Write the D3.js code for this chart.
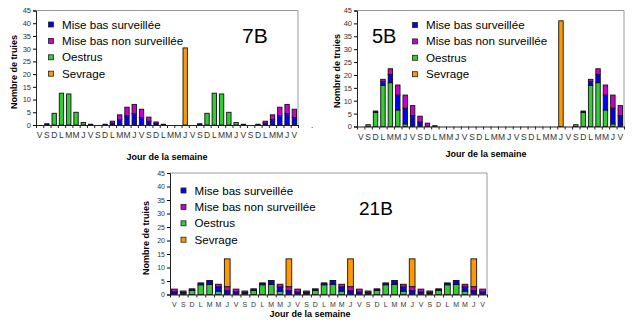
<!DOCTYPE html>
<html>
<head>
<meta charset="utf-8">
<script src="https://cdn.jsdelivr.net/npm/d3@7"></script>
<style>
  body { margin: 0; background: #fff; }
  svg { display: block; font-family: "Liberation Sans", Arial, sans-serif; }
</style>
</head>
<body>
<div id="chart"></div>
<script>
// Categories (jours de la semaine)
const jours = ["V","S","D","L","M","M","J","V","S","D","L","M","M","J","V","S","D","L",
               "M","M","J","V","S","D","L","M","M","J","V","S","D","L","M","M","J","V"];
const yTicks = [0, 5, 10, 15, 20, 25, 30, 35, 40, 45];
const seriesNames = ["Mise bas surveillée", "Mise bas non surveillée", "Oestrus", "Sevrage"];

// 7B
const oestrus7B = [0,0,4.6,12.5,12.2,5,1,0.3,0,0,0,0,0,0,0,0,0,0,0,0,0,0,0,4.6,12.5,12.2,5,1,0.3,0,0,0,0,0,0,0];
const surv7B    = [0,0.5,0,0,0,0,0,0,0,0.3,0.7,2.2,3.7,4.5,3,1.5,0.5,0.3,0,0,0,0,0.5,0,0,0,0,0,0,0,0.3,0.7,2.2,3.7,4.5,3];
const nonSurv7B = [0,0,0,0,0,0,0,0,0,0,0.8,1.8,3.3,3.6,3.2,1.6,0.7,0,0,0,0,0,0,0,0,0,0,0,0,0,0,0.8,1.8,3.3,3.6,3.2];
const sevrage7B = [0,0,0,0,0,0,0,0,0,0,0,0,0,0,0,0,0,0,0,0,30.3,0,0,0,0,0,0,0,0,0,0,0,0,0,0,0];

// 5B
const oestrus5B = [0,0.7,5.5,16,17,6.4,1,0,0,0,0,0,0,0,0,0,0,0,0,0,0,0,0,0,0,0,0,0,0,0.7,5.5,16,17,6.4,1,0];
const surv5B    = [0,0,0.5,1.5,3.2,5.8,6.1,4.2,1.8,0,0.3,0,0,0,0,0,0,0,0,0,0,0,0,0,0,0,0,0,0,0,0.5,1.5,3.2,5.8,6.1,4.2];
const nonSurv5B = [0,0,0,0.8,2.2,3.9,5.1,3.9,2.2,1.3,0,0,0,0,0,0,0,0,0,0,0,0,0,0,0,0,0,0,0,0,0,0.8,2.2,3.9,5.1,3.9];
const sevrage5B = [0,0,0,0,0,0,0,0,0,0,0,0,0,0,0,0,0,0,0,0,0,0,0,0,0,0,0,41,0,0,0,0,0,0,0,0];

// 21B
const oestrus21B = [0,0,1.5,3.6,3.7,1.2,0,0,0,1.5,3.6,3.7,1.2,0,0,0,1.5,3.6,3.7,1.2,0,0,0,1.5,3.6,3.7,1.2,0,0,0,1.5,3.6,3.7,1.2,0,0];
const surv21B    = [1,0.7,0.6,0.7,1.5,1.6,1.4,1,0.7,0.6,0.7,1.5,1.6,1.4,1,0.7,0.6,0.7,1.5,1.6,1.4,1,0.7,0.6,0.7,1.5,1.6,1.4,1,0.7,0.6,0.7,1.5,1.6,1.4,1];
const nonSurv21B = [1,0.6,0,0,0,1,1.5,1,0.6,0,0,0,1,1.5,1,0.6,0,0,0,1,1.5,1,0.6,0,0,0,1,1.5,1,0.6,0,0,0,1,1.5,1];
const sevrage21B = [0,0,0,0,0,0,10.3,0,0,0,0,0,0,10.3,0,0,0,0,0,0,10.3,0,0,0,0,0,0,10.3,0,0,0,0,0,0,10.3,0];

const colors = { surv: "#0000ff", non: "#cc00cc", oe: "#33cc33", sev: "#ff9900" };

const svg = d3.select("#chart").append("svg")
  .attr("width", 632)
  .attr("height", 322);

function drawChart(c) {
  const rows = jours.map((j, i) => ({
    i: i, oe: c.oe[i], surv: c.surv[i], non: c.non[i], sev: c.sev[i]
  }));
  const stacked = d3.stack().keys(["oe", "surv", "non", "sev"])(rows);

  const x = d3.scaleBand()
    .domain(d3.range(jours.length))
    .range([c.left, c.right])
    .paddingInner(c.pad)
    .paddingOuter(c.pad / 2);

  const y = d3.scaleLinear()
    .domain([0, 45])
    .range([c.bottom, c.top]);

  const g = svg.append("g");

  // Plot frame (top + right)
  g.append("path")
    .attr("d", `M${c.left},${c.top}H${c.right}V${c.bottom}`)
    .attr("fill", "none")
    .attr("stroke", "#9a9a9a");

  // Bars
  g.selectAll("g.serie")
    .data(stacked)
    .enter().append("g")
    .attr("fill", d => colors[d.key])
    .selectAll("rect")
    .data(d => d.filter(s => s[1] - s[0] > 0))
    .enter().append("rect")
    .attr("x", d => x(d.data.i))
    .attr("y", d => y(d[1]))
    .attr("width", x.bandwidth())
    .attr("height", d => y(d[0]) - y(d[1]))
    .attr("stroke", "#111")
    .attr("stroke-width", 0.9);

  // Y Axis
  const yAxis = g.append("g")
    .attr("transform", `translate(${c.left},0)`)
    .call(d3.axisLeft(y).tickValues(yTicks).tickSize(3).tickPadding(2));
  yAxis.selectAll("text").attr("fill", "#333").style("font-size", c.tickFont + "px");
  yAxis.select(".domain").attr("stroke", "#222");

  // X Axis labels
  const xAxis = g.append("g")
    .attr("transform", `translate(0,${c.bottom})`)
    .call(d3.axisBottom(x).tickFormat(i => jours[i]).tickSize(0).tickPadding(c.xPad));
  xAxis.selectAll("text").attr("fill", "#333").style("font-size", c.xFont + "px");
  xAxis.select(".domain").attr("stroke", "#222");

  // X tick marks between categories
  const xb = d3.scaleLinear().domain([0, jours.length]).range([c.left, c.right]);
  g.append("g")
    .attr("transform", `translate(0,${c.bottom})`)
    .call(d3.axisBottom(xb).tickValues(d3.range(jours.length + 1)).tickFormat("").tickSize(3))
    .call(a => a.select(".domain").remove())
    .selectAll("line").attr("stroke", "#222");

  // Axis titles
  g.append("text")
    .attr("transform", `translate(${c.yTitle[0]},${c.yTitle[1]}) rotate(-90)`)
    .attr("text-anchor", "middle")
    .attr("dominant-baseline", "middle")
    .style("font-size", "9px")
    .style("font-weight", "bold")
    .text("Nombre de truies");

  g.append("text")
    .attr("x", c.xTitle[0])
    .attr("y", c.xTitle[1])
    .attr("text-anchor", "middle")
    .attr("dominant-baseline", "middle")
    .style("font-size", "9px")
    .style("font-weight", "bold")
    .text("Jour de la semaine");

  // Legend
  const legKeys = ["surv", "non", "oe", "sev"];
  const leg = g.selectAll("g.leg")
    .data(legKeys)
    .enter().append("g")
    .attr("transform", (d, i) => `translate(${c.legend[0]},${c.legend[1] + i * 16.4})`);
  leg.append("rect")
    .attr("x", -2.5).attr("y", -2.5)
    .attr("width", 5).attr("height", 5)
    .attr("fill", d => colors[d])
    .attr("stroke", "#222")
    .attr("stroke-width", 0.8);
  leg.append("text")
    .attr("x", 11)
    .attr("dy", "0.35em")
    .style("font-size", "11.6px")
    .text((d, i) => seriesNames[i]);

  // Farm label
  g.append("text")
    .attr("x", c.name[0])
    .attr("y", c.name[1])
    .style("font-size", c.name[2] + "px")
    .text(c.label);
}

drawChart({
  label: "7B", oe: oestrus7B, surv: surv7B, non: nonSurv7B, sev: sevrage7B,
  left: 36, right: 298, top: 10.5, bottom: 125, pad: 0.4,
  tickFont: 7.5, xFont: 8.5, xPad: 7,
  yTitle: [15, 72], xTitle: [167, 158],
  legend: [51, 24.5], name: [242, 43, 21]
});

drawChart({
  label: "5B", oe: oestrus5B, surv: surv5B, non: nonSurv5B, sev: sevrage5B,
  left: 357, right: 624, top: 10.5, bottom: 126.5, pad: 0.4,
  tickFont: 7.5, xFont: 8.5, xPad: 7,
  yTitle: [338, 71], xTitle: [486, 155],
  legend: [415, 25], name: [372, 43, 20]
});

drawChart({
  label: "21B", oe: oestrus21B, surv: surv21B, non: nonSurv21B, sev: sevrage21B,
  left: 170, right: 487, top: 173, bottom: 294.5, pad: 0.35,
  tickFont: 7, xFont: 7, xPad: 8,
  yTitle: [147, 238], xTitle: [310, 315],
  legend: [183.5, 190.5], name: [359, 215, 19]
});

// stray mark left of the 5B chart
svg.append("text").attr("x", 311).attr("y", 128).style("font-size", "8px").text(".");
</script>
</body>
</html>
